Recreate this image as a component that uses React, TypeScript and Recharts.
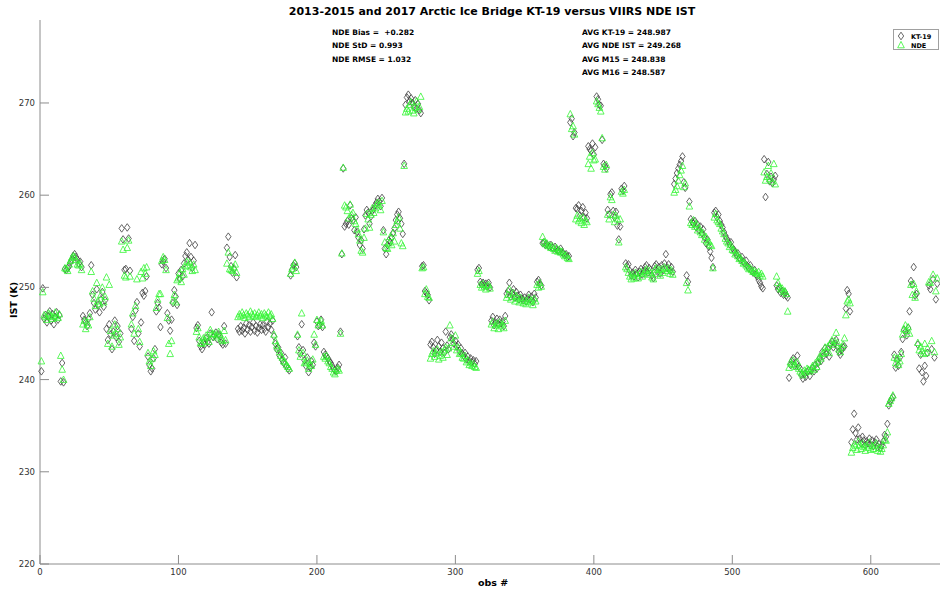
import React from "react";
import { ScatterChart, Scatter, XAxis, YAxis } from "recharts";

// KT-19 IST (K), one value per obs # starting at 1
const kt19Values: number[] = [
  240.9, 249.9,
  246.6, 247.0, 246.2, 246.9, 247.4, 246.4, 247.1, 246.0, 246.8, 247.3, 246.5, 247.0,
  239.8, 241.8, 239.7,
  252.0, 251.9, 252.1, 252.3, 252.7, 253.0, 253.4, 253.6, 253.3, 253.0, 252.6, 252.8, 252.2,
  246.9, 246.5, 246.2, 245.8, 246.6, 247.2,
  252.4,
  249.2, 248.3, 247.6, 249.8, 248.1, 247.3, 248.7, 249.5, 247.9, 248.6,
  245.5, 244.3, 246.0, 244.9, 243.3, 245.2, 246.4, 244.6, 245.8, 244.1, 245.0,
  256.4, 255.2, 251.9, 252.0, 256.5, 255.3, 251.8,
  245.5, 246.8, 244.2, 247.5, 248.4, 245.0, 243.6, 246.2, 249.4, 249.1, 249.6, 251.2,
  242.5, 241.6, 240.9, 241.2, 242.3, 243.3, 247.4, 248.3, 247.8,
  245.7, 252.5, 252.8, 253.1, 252.1, 247.2, 246.4, 245.3, 246.5,
  248.3, 249.7, 249.0, 248.1, 251.5, 250.9, 251.9, 251.2, 252.6, 253.4, 253.8,
  253.0, 254.8, 253.3, 252.1, 252.9, 254.6,
  245.6, 245.9, 244.2, 243.6, 243.3, 244.0, 243.8, 244.5, 244.1, 243.9,
  245.0, 247.3, 244.6, 244.8, 245.1, 244.4, 244.9, 244.7, 244.0, 243.8, 245.8, 243.9,
  254.3, 255.5, 253.3, 252.3, 251.6, 252.0, 253.5, 251.1,
  245.5, 245.2, 245.8, 245.3, 245.6, 245.0, 246.1, 245.4, 245.9, 245.2,
  245.7, 246.2, 245.3, 245.8, 245.1, 245.6, 246.0, 245.4, 245.9, 245.5,
  245.2, 246.3, 245.7, 246.1, 245.4, 246.4,
  244.7, 243.9, 243.3, 243.5, 242.6, 242.9, 242.1, 241.8, 242.4, 241.5, 241.2, 241.0,
  251.3, 251.9, 252.4, 252.6, 252.2, 244.7,
  243.5, 242.8, 246.0, 243.2, 242.1, 241.5, 242.4, 240.8, 241.3, 242.0, 241.6, 244.0, 243.6,
  246.3, 245.8, 245.9, 246.5, 245.7,
  243.0, 242.7, 242.5, 242.3, 242.0, 241.8, 241.5, 241.2, 241.0, 240.9, 241.3, 241.6,
  245.2, 253.6, 262.9,
  256.6, 256.9, 257.2, 256.8, 258.9, 257.5, 257.3, 256.2, 257.6, 256.0, 255.4,
  254.6, 255.1, 254.2, 256.3, 257.8, 258.4, 258.1, 256.9, 257.7, 258.3,
  258.5, 258.9, 259.2, 259.6, 259.3, 258.8, 259.7, 256.2, 254.2, 253.6,
  254.6, 255.1, 254.9, 255.4, 255.9, 256.4, 257.3, 257.9, 258.2, 257.5, 256.9, 255.8,
  263.4,
  269.8, 270.6, 270.9, 270.2, 270.5, 270.0, 269.6, 270.3, 269.4, 269.9, 269.2, 268.9,
  252.3, 252.4, 249.6, 249.4, 249.2, 248.6,
  243.8, 244.1, 243.5, 242.8, 243.2, 244.3, 243.6, 243.0, 244.0, 243.4, 242.9, 245.2, 243.7, 243.3, 244.6,
  244.9, 244.4, 243.9, 244.2, 243.6, 243.8, 243.1, 243.4, 242.8, 242.6,
  242.9, 242.2, 242.5, 242.0, 242.3, 241.9, 242.1, 241.7, 242.0,
  251.9, 252.1,
  250.6, 250.3, 250.5, 250.2, 250.4, 250.1, 250.5, 250.0,
  246.4, 246.8, 245.9, 246.2, 246.6, 246.0, 246.5, 246.1, 246.3, 245.8, 246.9,
  249.3, 249.6, 250.5, 249.0, 249.4, 249.8, 248.9, 249.5, 249.1, 248.7, 249.2, 248.8,
  248.6, 248.9, 248.5, 248.8, 249.2, 248.7, 249.0, 248.4, 249.3, 248.9,
  250.6, 250.8, 250.4, 250.2,
  254.8, 254.9, 254.6, 254.7, 254.5, 254.4, 254.6, 254.3, 254.2, 254.4,
  254.1, 254.0, 253.9, 254.2, 253.8, 253.7, 253.5, 253.6, 253.3,
  253.4,
  267.9, 268.3, 266.4, 266.8,
  258.6, 258.5, 258.9, 257.8, 258.3, 258.7, 257.6, 258.1, 257.5,
  265.3, 265.0, 264.8, 265.6, 264.4, 265.2, 270.7, 270.4, 269.8,
  269.7, 266.0, 263.4, 263.2, 262.9, 258.4, 257.9, 260.1,
  260.3, 258.3, 257.6, 258.2, 256.7, 255.2,
  256.6, 260.7, 260.5, 261.0, 252.6, 252.3,
  252.5, 251.8, 251.3, 251.6, 251.2, 251.9, 251.5, 251.1, 251.7, 252.0,
  251.4, 251.8, 252.2, 252.4, 251.6, 252.1, 251.9, 251.3, 251.0, 252.3,
  252.5, 251.7, 252.2, 251.5, 252.4, 251.9, 252.6, 253.6, 252.1, 252.5,
  251.8, 252.2, 251.7,
  261.2, 261.8, 262.4, 262.9, 263.3, 263.7, 264.2, 261.4, 260.8,
  251.3, 250.6,
  259.3, 257.4, 257.1, 256.9, 257.2, 256.5, 256.8, 256.2, 256.6, 255.9, 256.3, 255.4, 254.8, 255.2, 254.4, 253.9,
  253.2, 252.2,
  258.1, 258.3, 257.6, 257.9, 257.2, 256.8, 256.5, 256.0, 255.6, 255.3, 255.0, 254.7, 254.9, 254.3,
  254.1, 253.8, 253.5, 253.7, 253.2, 253.0, 253.3, 252.8, 252.6, 252.9,
  252.3, 252.1, 252.4, 251.8, 251.6, 251.9, 251.4, 251.2, 250.8, 250.5, 250.1, 249.9,
  263.9, 259.8, 262.3, 263.6, 261.5, 262.0, 261.3, 261.7, 262.1,
  250.2, 249.8, 250.0, 249.4, 249.6, 249.2, 249.5, 249.1, 248.9,
  240.2, 241.6, 242.0, 242.3, 241.5, 241.8, 242.6, 241.4, 241.2, 240.5, 240.1, 240.6, 240.3, 240.8, 241.0, 240.4,
  241.0, 241.3, 240.9, 241.6, 241.2, 241.8, 242.3, 242.0, 243.0, 242.6,
  243.4, 242.8, 243.3, 242.5, 243.8, 244.1, 243.5, 243.9, 244.3, 243.6, 243.0, 242.7, 243.2, 243.5,
  243.6, 247.7, 249.7, 249.3, 247.4,
  233.2, 234.6, 236.3, 234.2, 233.5, 234.8, 233.6, 233.1, 233.8, 233.4, 232.9,
  233.3, 233.1, 233.6, 232.9, 233.4, 232.8, 233.2, 233.5, 232.7, 233.0, 232.6, 232.9, 233.3, 234.0, 233.8, 235.2,
  237.2, 237.6, 237.9, 238.1,
  242.7, 241.3, 242.1, 241.5, 242.4, 243.0,
  244.4, 245.4, 245.2, 244.8, 245.6, 247.4, 250.7,
  250.3, 252.2, 249.1, 249.3, 243.8, 241.2,
  242.7, 240.8, 239.8, 241.5, 240.4, 242.9, 250.2, 249.8, 243.3, 250.9, 242.4, 248.7, 250.4,
];

// VIIRS NDE IST (K), one value per obs # starting at 1
const ndeValues: number[] = [
  242.0, 249.5,
  247.0, 246.8, 246.5, 247.2, 247.1, 246.9, 246.6, 246.8, 247.3, 246.9, 246.7, 247.1,
  242.6, 241.1, 240.0,
  252.1, 252.0, 251.8, 252.5, 252.9, 253.2, 253.4, 253.3, 253.0, 252.5, 252.4, 252.6, 251.9,
  246.0, 246.4, 245.5, 246.2, 245.9, 246.8,
  251.7,
  249.6, 248.8, 248.0, 250.5, 248.5, 248.2, 249.2, 250.0, 248.4, 249.0,
  251.1, 243.9, 250.3, 245.3, 243.6, 244.8, 246.0, 245.0, 245.5, 243.8, 244.6,
  255.0, 254.1, 251.3, 251.1, 254.3, 255.1, 251.2,
  246.0, 247.2, 245.0, 248.0, 250.9, 245.5, 244.1, 251.7, 251.0, 252.1, 251.5, 252.2,
  242.9, 242.0, 241.5, 242.3, 243.1, 242.7, 247.8, 248.7, 249.3,
  249.3, 252.9, 253.3, 253.0, 251.9, 246.7, 243.9, 242.8, 244.2,
  248.6, 249.2, 248.4, 250.8, 251.0, 251.6, 250.6, 252.0, 251.4, 252.3, 252.8,
  252.4, 252.7, 252.2, 251.8, 252.5, 251.9,
  245.2, 245.6, 244.6, 244.0, 243.9, 244.5, 244.2, 244.8, 244.6, 244.1,
  245.4, 245.0, 244.9, 245.0, 244.6, 244.8, 245.2, 244.9, 244.4, 244.2, 245.3, 244.3,
  252.6, 253.8, 252.0, 251.9, 251.8, 252.2, 252.5, 251.6,
  246.8, 247.1, 246.9, 247.3, 247.0, 246.7, 247.2, 247.0, 246.8, 247.4,
  247.1, 246.9, 247.2, 246.8, 247.0, 247.3, 246.9, 247.1, 246.7, 247.2,
  247.0, 246.8, 247.3, 246.9, 247.1, 246.6,
  244.9, 244.2, 243.7, 243.4, 243.0, 242.6, 242.4, 242.0, 241.9, 241.6, 241.4, 241.2,
  251.5, 252.0, 252.3, 252.7, 251.8, 244.9,
  243.2, 242.5, 247.2, 242.9, 241.8, 241.9, 242.1, 241.2, 241.7, 241.5, 242.2, 244.9, 243.8,
  246.5, 245.9, 246.2, 246.4, 245.9,
  242.5, 242.3, 242.6, 242.0, 241.8, 241.4, 241.2, 240.8, 240.6, 241.0, 241.2, 241.0,
  245.0, 253.7, 263.0,
  258.9, 258.7, 258.3, 257.5, 259.0, 257.9, 258.1, 257.2, 256.9, 256.3, 255.8,
  255.1, 254.0, 253.8, 255.4, 256.4, 258.0, 257.4, 256.5, 257.9, 258.6,
  258.1, 258.6, 259.0, 259.2, 258.9, 258.4, 259.4, 256.0, 254.9, 254.3,
  254.2, 254.8, 255.5, 254.6, 255.9, 255.0, 256.8, 257.2, 257.6, 256.4, 254.8, 254.5,
  263.2,
  269.0, 269.4, 269.1, 269.8, 270.1, 269.2, 268.9, 269.5, 270.2, 269.3, 269.6, 270.7,
  252.1, 252.2, 249.3, 249.8, 249.0, 248.9,
  242.3, 242.8, 243.1, 242.5, 242.9, 243.3, 242.2, 242.6, 243.0, 242.4, 243.2, 243.5, 242.7, 243.4, 245.9,
  244.5, 244.0, 243.6, 244.8, 243.2, 243.5, 242.8, 242.9, 242.4, 242.3,
  242.6, 241.9, 242.1, 241.6, 241.8, 241.5, 241.7, 241.4, 241.3,
  251.5, 251.8,
  250.3, 250.0, 250.4, 250.1, 249.8, 250.2, 250.3, 249.9,
  246.0, 246.3, 245.6, 245.9, 246.1, 245.5, 246.2, 245.8, 246.0, 245.6, 246.4,
  248.9, 249.2, 249.8, 248.7, 249.0, 249.4, 248.5, 249.1, 248.8, 248.4, 248.9, 248.6,
  248.3, 248.6, 248.2, 248.5, 248.9, 248.4, 248.6, 248.1, 248.8, 248.5,
  250.3, 250.0, 250.5, 250.1,
  255.5, 254.9, 254.7, 254.8, 254.5, 254.6, 254.3, 254.5, 254.2, 254.0,
  254.3, 253.9, 254.1, 253.8, 253.9, 253.6, 253.4, 253.5, 253.2,
  253.1,
  268.8, 267.2, 267.5, 266.6,
  257.4, 257.8, 257.2, 257.5, 257.0, 257.6, 256.8, 257.3, 257.1,
  263.4, 264.2, 262.9, 264.6, 263.8, 263.9, 270.2, 269.9, 269.5,
  269.1, 266.2, 263.1, 262.8, 263.3, 257.9, 257.4, 259.8,
  259.5, 257.9, 257.1, 257.8, 257.4, 254.9,
  257.4, 260.4, 260.2, 260.6, 252.2, 252.0,
  251.6, 251.2, 250.9, 251.4, 251.0, 251.6, 251.3, 251.0, 251.5, 251.7,
  251.2, 251.5, 251.8, 252.0, 251.4, 251.8, 251.6, 251.1, 250.9, 251.9,
  252.1, 251.5, 251.9, 251.3, 252.0, 251.6, 252.2, 252.0, 251.8, 252.1,
  251.5, 251.9, 251.4,
  260.3, 260.6, 261.0, 261.6, 262.2, 262.7, 263.2, 260.9, 261.3,
  250.5, 249.7,
  258.8, 257.0, 256.8, 257.3, 256.6, 256.9, 256.2, 256.5, 256.0, 255.7, 255.9, 255.2, 255.5, 254.9, 255.0, 254.6,
  254.5, 252.1,
  257.6, 258.0, 257.3, 257.1, 256.9, 256.4, 256.1, 255.8, 255.3, 255.0, 254.8, 254.4, 254.6, 254.1,
  254.0, 253.6, 253.8, 253.4, 253.1, 253.2, 252.9, 252.6, 252.7, 252.4,
  252.2, 252.0, 252.1, 251.9, 251.7, 251.8, 251.6, 251.5, 251.7, 251.3, 251.5, 251.2,
  262.5, 261.6, 262.0, 263.2, 261.8, 262.4, 261.5, 263.4, 261.2,
  251.2, 250.5, 250.1, 249.8, 249.9, 249.5, 249.6, 249.3, 247.4,
  241.3, 241.9, 241.7, 242.1, 241.6, 241.4, 241.9, 241.2, 240.9, 240.7, 240.5, 241.0, 240.8, 241.2, 241.1, 240.9,
  241.2, 241.5, 241.1, 241.8, 241.4, 242.0, 242.5, 242.3, 242.8, 242.9,
  243.5, 243.1, 243.6, 242.9, 244.0, 244.3, 243.8, 244.2, 245.1, 244.0, 243.3, 243.0, 243.5, 243.8,
  244.5, 247.0, 248.5, 248.7, 248.3,
  232.1, 232.6, 233.0, 232.8, 232.4, 233.3, 232.9, 232.5, 233.1, 232.7, 232.3,
  232.9, 232.6, 233.2, 232.4, 232.8, 232.5, 232.9, 233.1, 232.3, 232.6, 232.2, 232.5, 232.9, 233.5, 233.4, 234.3,
  237.4, 237.7, 238.0, 238.3,
  242.4, 241.8, 242.3, 241.6, 242.0, 242.8,
  244.9, 245.5, 245.9, 245.3, 245.7, 245.0, 250.3,
  249.2, 250.4, 248.9, 249.6, 244.0, 243.2,
  243.6, 243.1, 242.8, 243.9, 242.9, 243.4, 250.6, 250.5, 244.2, 251.4, 243.0, 249.6, 251.0,
];

const xTicks = [0, 100, 200, 300, 400, 500, 600];
const yTicks = [220, 230, 240, 250, 260, 270];
const statsLeft = ["NDE Bias =  +0.282", "NDE StD = 0.993", "NDE RMSE = 1.032"];
const statsRight = [
  "AVG KT-19 = 248.987",
  "AVG NDE IST = 249.268",
  "AVG M15 = 248.838",
  "AVG M16 = 248.587",
];

const kt19Data = kt19Values.map((v, i) => ({ obs: i + 1, ist: v }));
const ndeData = ndeValues.map((v, i) => ({ obs: i + 1, ist: v }));

const KT_COLOR = "#404040";
const NDE_COLOR = "#33f533";
const FONT = "'DejaVu Sans', sans-serif";

const Diamond = (props: any) => {
  const { cx, cy } = props;
  if (cx == null || cy == null) return null;
  return (
    <path
      d={`M${cx},${cy - 3.8} L${cx + 2.7},${cy} L${cx},${cy + 3.8} L${cx - 2.7},${cy} Z`}
      fill="none"
      stroke={KT_COLOR}
      strokeWidth={0.8}
    />
  );
};

const Triangle = (props: any) => {
  const { cx, cy } = props;
  if (cx == null || cy == null) return null;
  return (
    <path
      d={`M${cx},${cy - 3.6} L${cx + 3.3},${cy + 2.8} L${cx - 3.3},${cy + 2.8} Z`}
      fill="none"
      stroke={NDE_COLOR}
      strokeWidth={0.8}
    />
  );
};

const XTick = (props: any) => {
  const { x, y, payload } = props;
  return (
    <g>
      <line x1={x} y1={y} x2={x} y2={y - 9} stroke="#8c8c8c" />
      <text x={x} y={y + 11} textAnchor="middle" fontSize={8.5} fill="#333" fontFamily={FONT}>
        {payload.value}
      </text>
    </g>
  );
};

const YTick = (props: any) => {
  const { x, y, payload } = props;
  return (
    <g>
      <line x1={x} y1={y} x2={x + 9} y2={y} stroke="#8c8c8c" />
      <text x={x - 5} y={y + 3} textAnchor="end" fontSize={8.5} fill="#333" fontFamily={FONT}>
        {payload.value}
      </text>
    </g>
  );
};

const textStyle: React.CSSProperties = {
  position: "absolute",
  fontFamily: FONT,
  fontWeight: "bold",
  color: "#000",
  whiteSpace: "pre",
  lineHeight: 1,
};

export default function App() {
  return (
    <div
      style={{
        position: "absolute",
        left: 0,
        top: 0,
        width: 940,
        height: 590,
        background: "#fff",
        overflow: "hidden",
      }}
    >
      <ScatterChart width={940} height={590} margin={{ top: 20, right: 0, bottom: 0, left: 0 }}>
        <XAxis
          type="number"
          dataKey="obs"
          domain={[0, 650]}
          ticks={xTicks}
          height={26}
          tickSize={0}
          tickMargin={0}
          tickLine={false}
          axisLine={{ stroke: "#8c8c8c" }}
          tick={<XTick />}
          interval={0}
        />
        <YAxis
          type="number"
          dataKey="ist"
          domain={[220, 279]}
          ticks={yTicks}
          width={40}
          tickSize={0}
          tickMargin={0}
          tickLine={false}
          axisLine={{ stroke: "#8c8c8c" }}
          tick={<YTick />}
          interval={0}
        />
        <Scatter name="KT-19" data={kt19Data} shape={Diamond} isAnimationActive={false} />
        <Scatter name="NDE" data={ndeData} shape={Triangle} isAnimationActive={false} />
      </ScatterChart>

      <div style={{ ...textStyle, left: 0, width: 984, top: 6, textAlign: "center", fontSize: 11 }}>
        2013-2015 and 2017 Arctic Ice Bridge KT-19 versus VIIRS NDE IST
      </div>
      {statsLeft.map((s, i) => (
        <div key={s} style={{ ...textStyle, left: 332, top: 29 + i * 13.3, fontSize: 7.5 }}>
          {s}
        </div>
      ))}
      {statsRight.map((s, i) => (
        <div key={s} style={{ ...textStyle, left: 582, top: 29 + i * 13.3, fontSize: 7.5 }}>
          {s}
        </div>
      ))}
      <div style={{ ...textStyle, left: 0, width: 986, top: 578, textAlign: "center", fontSize: 9.5 }}>
        obs #
      </div>
      <div
        style={{
          ...textStyle,
          left: 14,
          top: 300,
          fontSize: 9.5,
          transform: "translate(-50%, -50%) rotate(-90deg)",
        }}
      >
        IST (K)
      </div>

      <div
        style={{
          position: "absolute",
          left: 893,
          top: 29,
          width: 46,
          height: 21,
          border: "1px solid #a0a0a0",
          boxSizing: "border-box",
          background: "#fff",
        }}
      >
        <svg width={46} height={21} style={{ position: "absolute", left: 0, top: 0 }}>
          <Diamond cx={7} cy={6} />
          <Triangle cx={7} cy={15} />
          <text x={17} y={8.5} fontSize={6.5} fontWeight="bold" fontFamily={FONT}>KT-19</text>
          <text x={17} y={17.5} fontSize={6.5} fontWeight="bold" fontFamily={FONT}>NDE</text>
        </svg>
      </div>
    </div>
  );
}
